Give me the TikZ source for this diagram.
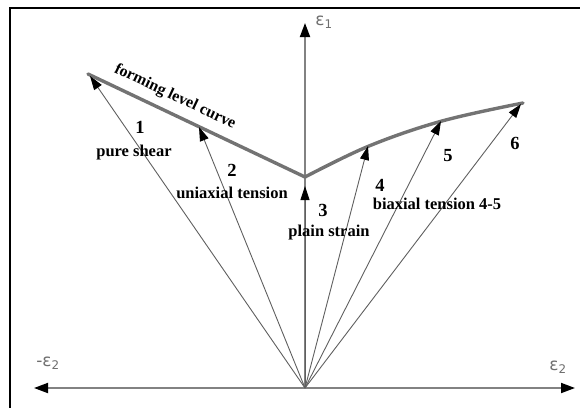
\documentclass[tikz,border=0pt]{standalone}
\usepackage{fontspec}
\setmainfont{Liberation Serif}
\newfontfamily\epsfont{DejaVu Sans}
\usetikzlibrary{arrows.meta}
\definecolor{axisgray}{RGB}{130,130,130}
\definecolor{curvegray}{RGB}{115,115,115}
\definecolor{arrgray}{RGB}{95,95,95}
\definecolor{epsgray}{RGB}{110,110,110}
\tikzset{
  axisline/.style={draw=axisgray, line width=1.8pt, -{Triangle[length=14pt,width=10pt,color=black]}},
  strainarrow/.style={draw=arrgray, line width=0.9pt, -{Triangle[length=14pt,width=9pt,color=black]}},
  flc/.style={draw=curvegray, line width=3.4pt, line join=round, line cap=round},
  lbl/.style={font=\bfseries\fontsize{16.5}{18}\selectfont, inner sep=0pt},
  flclbl/.style={font=\bfseries\fontsize{16}{18}\selectfont, inner sep=0pt},
  num/.style={font=\bfseries\fontsize{18.5}{20}\selectfont, inner sep=0pt},
  epslbl/.style={font=\epsfont\fontsize{17}{19}\selectfont, text=epsgray, inner sep=0pt},
  framel/.style={draw=black, line width=2pt}
}
\begin{document}
\begin{tikzpicture}[x=1pt,y=-1pt]
\useasboundingbox (0,0) rectangle (580,407);
% frame
\coordinate (fbl) at (10,420);
\coordinate (ftl) at (10,8);
\coordinate (ftr) at (590,8);
\draw[framel] (fbl) -- (ftl) -- (ftr);
% key points
\coordinate (O) at (305,388);
\coordinate (ytop) at (305,23);
\coordinate (xl) at (34,388);
\coordinate (xr) at (575,388);
\coordinate (c1) at (88,74);
\coordinate (v) at (305,177);
\coordinate (c4) at (369,146);
\coordinate (c5) at (442,121);
\coordinate (c6) at (523,103);
\coordinate (t1) at (90,76);
\coordinate (t2) at (199,127);
\coordinate (t3) at (305,186);
\coordinate (t4) at (368,146);
\coordinate (t5) at (441,121);
\coordinate (t6) at (521,104);
% axes
\draw[axisline] (O) -- (ytop);
\draw[axisline] (O) -- (xl);
\draw[axisline] (O) -- (xr);
% forming level curve
\draw[flc] (c1) -- (v);
\draw[flc] plot[smooth, tension=0.6] coordinates {(v) (c4) (c5) (c6)};
% strain paths
\foreach \t in {t1,t2,t3,t4,t5,t6} \draw[strainarrow] (O) -- (\t);
% labels
\node[flclbl, rotate=-25.4] (flcl) at (175,97) {forming level curve};
\node[num] (n1) at (140,127) {1};
\node[lbl] (ps) at (134,153) {pure shear};
\node[num] (n2) at (232,170) {2};
\node[lbl] (ut) at (232,193) {uniaxial tension};
\node[num] (n3) at (323,210) {3};
\node[lbl] (pls) at (329,233) {plain strain};
\node[num] (n4) at (380,185) {4};
\node[lbl] (bt) at (437,204) {biaxial tension 4-5};
\node[num] (n5) at (448,156) {5};
\node[num] (n6) at (515,143) {6};
\node[epslbl] (e1) at (324,22) {ε\textsubscript{1}};
\node[epslbl] (me2) at (48,363) {-ε\textsubscript{2}};
\node[epslbl] (e2) at (558,367) {ε\textsubscript{2}};
\end{tikzpicture}
\end{document}
